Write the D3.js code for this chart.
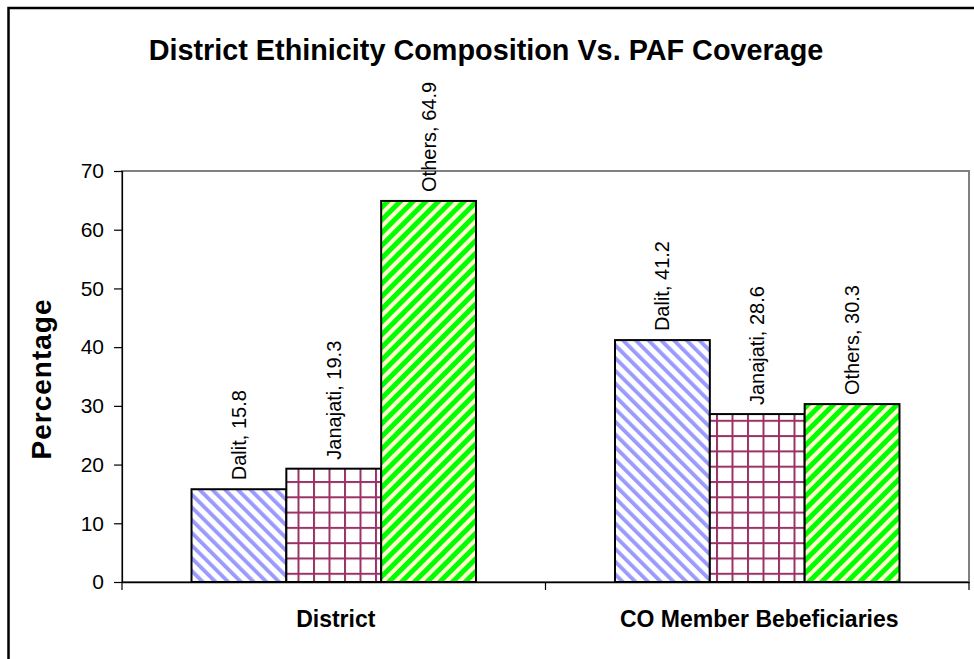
<!DOCTYPE html>
<html>
<head>
<meta charset="utf-8">
<script src="https://cdn.jsdelivr.net/npm/d3@7/dist/d3.min.js"></script>
<style>
  html, body { margin: 0; padding: 0; background: #fff; }
  svg { display: block; font-family: "Liberation Sans", Arial, sans-serif; }
</style>
</head>
<body>
<svg id="chart" width="974" height="659"></svg>
<script>
const categories = ["District", "CO Member Bebeficiaries"];
const seriesNames = ["Dalit", "Janajati", "Others"];
const districtValues = [15.8, 19.3, 64.9];
const coValues = [41.2, 28.6, 30.3];
const yTicks = [0, 10, 20, 30, 40, 50, 60, 70];
const titleText = "District Ethinicity Composition Vs. PAF Coverage";
const yTitle = "Percentage";

const valuesByCategory = [districtValues, coValues];
const data = [];
categories.forEach((c, ci) => {
  seriesNames.forEach((s, si) => {
    data.push({ category: c, series: s, value: valuesByCategory[ci][si] });
  });
});

const svg = d3.select("#chart");
const plot = { left: 122, right: 969, top: 171, bottom: 582 };

// Patterns
const defs = svg.append("defs");
// Dalit: blue "\" stripes on white
const pDalit = defs.append("pattern").attr("id", "pDalit")
  .attr("patternUnits", "userSpaceOnUse").attr("width", 9).attr("height", 9)
  .attr("patternTransform", "rotate(-45)");
pDalit.append("rect").attr("width", 9).attr("height", 9).attr("fill", "#ffffff");
pDalit.append("rect").attr("x", 0).attr("width", 3.8).attr("height", 9).attr("fill", "#9999ff");

// Janajati: maroon grid on white
const pJan = defs.append("pattern").attr("id", "pJan")
  .attr("patternUnits", "userSpaceOnUse").attr("width", 15.5).attr("height", 15.3)
  .attr("x", 282).attr("y", 481);
pJan.append("rect").attr("width", 15.5).attr("height", 15.3).attr("fill", "#ffffff");
pJan.append("rect").attr("x", 0).attr("y", 0).attr("width", 2).attr("height", 15.3).attr("fill", "#993366");
pJan.append("rect").attr("x", 0).attr("y", 0).attr("width", 15.5).attr("height", 2).attr("fill", "#993366");

// Others: green "/" stripes on light yellow
const pOth = defs.append("pattern").attr("id", "pOth")
  .attr("patternUnits", "userSpaceOnUse").attr("width", 9).attr("height", 9)
  .attr("patternTransform", "rotate(45)");
pOth.append("rect").attr("width", 9).attr("height", 9).attr("fill", "#ffffcc");
pOth.append("rect").attr("x", 0).attr("width", 5).attr("height", 9).attr("fill", "#00ff00");

const fills = { "Dalit": "url(#pDalit)", "Janajati": "url(#pJan)", "Others": "url(#pOth)" };

// Outer chart border
svg.append("rect").attr("x", 8.5).attr("y", 8).attr("width", 1000).attr("height", 700)
  .attr("fill", "#fff").attr("stroke", "#000").attr("stroke-width", 2.5);

// Scales
const x0 = d3.scaleBand().domain(categories).range([plot.left, plot.right]).padding(0);
const x1 = d3.scaleBand().domain(seriesNames).range([0, x0.bandwidth()])
  .paddingInner(0).paddingOuter(0.733);
const y = d3.scaleLinear().domain([0, 70]).range([plot.bottom, plot.top]);

// Plot area border (gray)
svg.append("rect").attr("x", plot.left).attr("y", plot.top)
  .attr("width", plot.right - plot.left).attr("height", plot.bottom - plot.top)
  .attr("fill", "none").attr("stroke", "#808080").attr("stroke-width", 2);

// Bars
svg.append("g").selectAll("rect").data(data).join("rect")
  .attr("x", d => x0(d.category) + x1(d.series))
  .attr("y", d => y(d.value))
  .attr("width", x1.bandwidth())
  .attr("height", d => y(0) - y(d.value))
  .attr("fill", d => fills[d.series])
  .attr("stroke", "#000").attr("stroke-width", 2);

// Bar labels
svg.append("g").selectAll("text").data(data).join("text")
  .attr("transform", d => `translate(${x0(d.category) + x1(d.series) + x1.bandwidth() / 2},${y(d.value) - 9}) rotate(-90)`)
  .attr("dy", "0.35em")
  .attr("text-anchor", "start")
  .attr("font-size", 20)
  .attr("fill", "#000")
  .text(d => `${d.series}, ${d.value}`);

// Y axis
const yAxis = d3.axisLeft(y).tickValues(yTicks).tickSize(8).tickPadding(10).tickFormat(d3.format("d"));
const gy = svg.append("g").attr("transform", `translate(${plot.left},0)`).call(yAxis);
gy.select(".domain").attr("stroke", "#000").attr("stroke-width", 1.2);
gy.selectAll(".tick line").attr("stroke", "#000").attr("stroke-width", 1.2);
gy.selectAll(".tick text").attr("font-size", 21).attr("font-family", "Liberation Sans, Arial, sans-serif").attr("fill", "#000");

// X axis
const xAxis = d3.axisBottom(x0).tickSize(0).tickPadding(0).tickFormat("");
const gx = svg.append("g").attr("transform", `translate(0,${plot.bottom})`).call(xAxis);
gx.select(".domain").attr("stroke", "#000").attr("stroke-width", 1.5);
gx.selectAll(".tick").remove();
const boundaries = categories.map(c => x0(c)).concat([x0(categories[categories.length - 1]) + x0.bandwidth()]);
gx.selectAll("line.bt").data(boundaries).join("line").attr("class", "bt")
  .attr("x1", d => d).attr("x2", d => d).attr("y1", 0).attr("y2", 8)
  .attr("stroke", "#000").attr("stroke-width", 1.2);
svg.append("g").selectAll("text").data(categories).join("text")
  .attr("x", d => x0(d) + x0.bandwidth() / 2 + 2)
  .attr("y", 627)
  .attr("text-anchor", "middle")
  .attr("font-size", 23).attr("font-weight", "bold")
  .text(d => d);

// Y title
svg.append("text")
  .attr("transform", `translate(51,${(plot.top + plot.bottom) / 2 + 3}) rotate(-90)`)
  .attr("text-anchor", "middle")
  .attr("font-size", 28).attr("font-weight", "bold")
  .attr("textLength", 160).attr("lengthAdjust", "spacing")
  .text(yTitle);

// Title
svg.append("text")
  .attr("x", 486).attr("y", 60)
  .attr("text-anchor", "middle")
  .attr("font-size", 28.8).attr("font-weight", "bold")
  .text(titleText);
</script>
</body>
</html>
